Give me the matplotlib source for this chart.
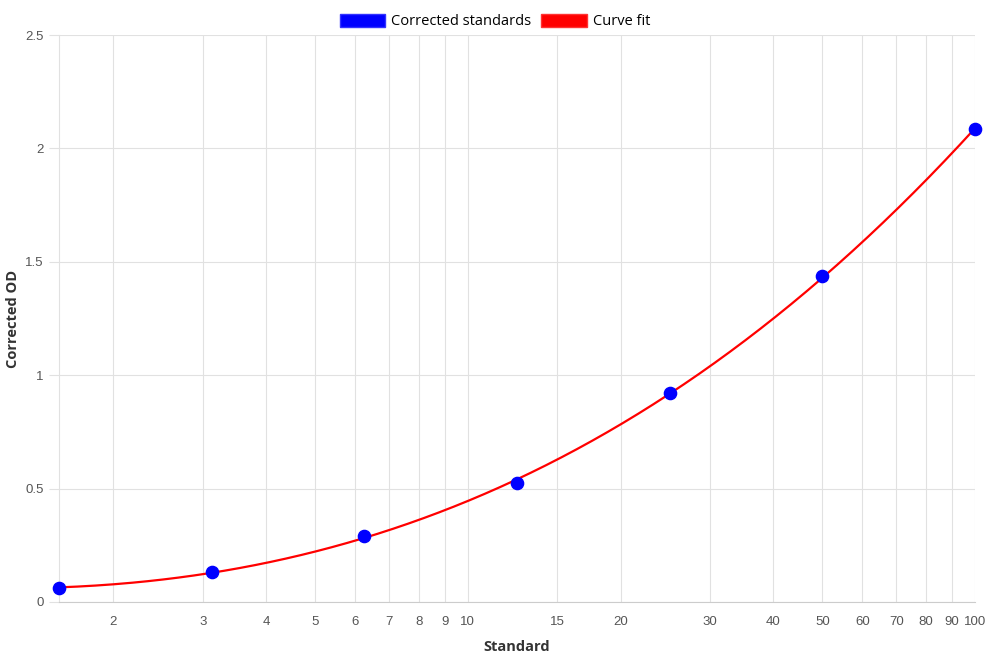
import numpy as np
import matplotlib.pyplot as plt
from matplotlib.patches import Patch
from matplotlib.ticker import FixedLocator, NullLocator

# standards (dilution series) and corrected OD readings
standard = [1.5625, 3.125, 6.25, 12.5, 25, 50, 100]
corrected_od = [0.062, 0.132, 0.291, 0.525, 0.921, 1.437, 2.085]

x_ticks = [2, 3, 4, 5, 6, 7, 8, 9, 10, 15, 20, 30, 40, 50, 60, 70, 80, 90, 100]
y_ticks = [0, 0.5, 1, 1.5, 2, 2.5]
y_tick_labels = ['0', '0.5', '1', '1.5', '2', '2.5']

# curve fit: cubic polynomial in log10(standard)
coef = np.polyfit(np.log10(standard), corrected_od, 3)
xf = np.logspace(np.log10(standard[0]), np.log10(standard[-1]), 300)
yf = np.polyval(coef, np.log10(xf))

fig = plt.figure(figsize=(9.9, 6.6), dpi=100)
ax = fig.add_axes([59 / 990, 58 / 660, 916 / 990, 567 / 660])

grid_c = '#e1e1e1'
ax.plot(xf, yf, color='#ff0000', lw=1.6, zorder=3)
ax.plot(standard, corrected_od, 'o', color='#0000ff', ms=8.8, zorder=4, clip_on=False)

ax.set_xscale('log')
ax.set_xlim(standard[0], standard[-1])
ax.set_ylim(0, 2.5)
ax.xaxis.set_major_locator(FixedLocator(x_ticks))
ax.xaxis.set_minor_locator(NullLocator())
ax.set_xticks(x_ticks, [str(t) for t in x_ticks])
ax.set_yticks(y_ticks, y_tick_labels)
ax.grid(True, color=grid_c, lw=0.8)
ax.set_axisbelow(True)

for s in ['top', 'right']:
    ax.spines[s].set_visible(False)
ax.spines['left'].set_color(grid_c)
ax.spines['bottom'].set_color('#cccccc')
ax.spines['left'].set_linewidth(0.8)
ax.spines['bottom'].set_linewidth(0.8)

tick_font = ['Liberation Sans', 'DejaVu Sans']
ax.tick_params(axis='x', length=0, pad=10, labelsize=9.5, labelcolor='#555555')
ax.tick_params(axis='y', length=7, width=0.8, color=grid_c, pad=4,
               labelsize=9.5, labelcolor='#555555')
for lab in ax.get_xticklabels() + ax.get_yticklabels():
    lab.set_family(tick_font)

title_font = ['Open Sans', 'DejaVu Sans']
ax.set_xlabel('Standard', fontsize=10.5, fontweight='bold', color='#333333',
              family=title_font, labelpad=9)
ax.set_ylabel('Corrected OD', fontsize=10.5, fontweight='bold', color='#333333',
              family=title_font)
ax.yaxis.set_label_coords(-0.043, 0.5)

handles = [Patch(facecolor='#0000ff', edgecolor='#3333ff', label='Corrected standards'),
           Patch(facecolor='#ff0000', edgecolor='#ff3333', label='Curve fit')]
fig.legend(handles=handles, loc='upper center', bbox_to_anchor=(0.5, 0.999), ncol=2,
           frameon=False, handlelength=3.1, handleheight=1.0, handletextpad=0.4,
           columnspacing=0.7, prop={'family': title_font, 'size': 10.5})

fig.savefig('out.png', dpi=100)
